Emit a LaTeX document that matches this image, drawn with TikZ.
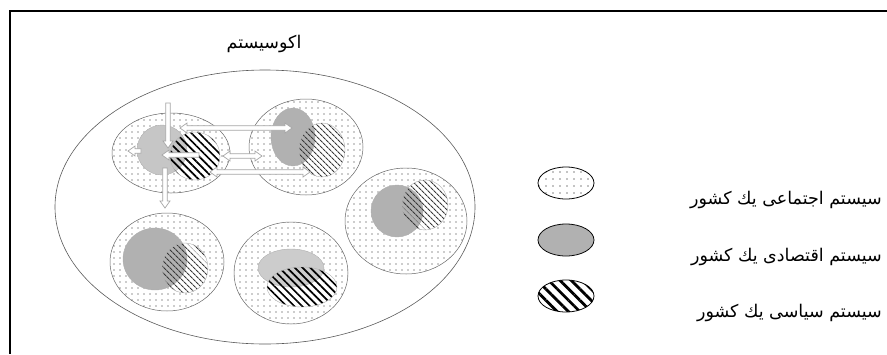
\documentclass[tikz,border=0pt]{standalone}
\usepackage{fontspec}
\newfontfamily\arabicfont[Script=Arabic]{DejaVu Sans}
\TeXXeTstate=1
\usetikzlibrary{patterns.meta}
\tikzset{
  social/.style={draw=gray!80!black, line width=0.5pt, pattern={Dots[distance=6pt, radius=0.6pt]}, pattern color=black!85},
  econ/.style={draw=gray!60, line width=0.4pt, fill=#1, postaction={pattern={Dots[distance=2pt, radius=0.45pt]}, pattern color=black!45}},
  polwhite/.style={fill=white},
  polbold/.style={draw=gray!60, line width=0.4pt, pattern={Lines[angle=-45, distance=5.5pt, line width=1.7pt]}, pattern color=black},
  polthin/.style={draw=gray!60, line width=0.4pt, pattern={Lines[angle=-45, distance=4pt, line width=1.1pt]}, pattern color=gray!45!black},
  blk/.style={draw=gray!70, fill=white, line width=0.7pt, line join=miter},
  pics/sarr/.style={code={\path[blk] (0,-2.3)--(#1-7,-2.3)--(#1-7,-5)--(#1,0)--(#1-7,5)--(#1-7,2.3)--(0,2.3)--cycle;}},
  pics/darr/.style={code={\path[blk] (0,0)--(7,-5)--(7,-2.3)--(#1-7,-2.3)--(#1-7,-5)--(#1,0)--(#1-7,5)--(#1-7,2.3)--(7,2.3)--(7,5)--cycle;}},
  label/.style={inner sep=0pt, font=\arabicfont\fontsize{17.5}{20}\selectfont},
  ttl/.style={inner sep=0pt, font=\arabicfont\fontsize{17.5}{20}\selectfont},
}
\begin{document}
\begin{tikzpicture}[x=1pt,y=-1pt]
\useasboundingbox (0,0) rectangle (887,354);
% frame (partial)
\draw[line width=1.4pt] (887,11) -- (10,11) -- (10,354);
% title
\node[ttl] (title) at (264,44) {\beginR اکوسیستم\endR};
% ecosystem
\draw[line width=0.6pt, draw=gray!70!black] (265,207) ellipse [x radius=210pt, y radius=137pt];

% group A (top-left)
\path[social] (171,153) ellipse [x radius=59pt, y radius=40pt];
\path[polwhite] (195,156) ellipse [x radius=25pt, y radius=24pt];
\path[econ=gray!40] (162,150) ellipse [x radius=25pt, y radius=25pt];
\path[polbold] (195,156) ellipse [x radius=25pt, y radius=24pt];

% group B (top-right)
\path[social] (306,147) ellipse [x radius=57pt, y radius=48pt];
\path[polwhite] (322,150) ellipse [x radius=23pt, y radius=27pt];
\path[econ=gray!58] (293,137) ellipse [x radius=22pt, y radius=29pt];
\path[polthin] (322,150) ellipse [x radius=23pt, y radius=27pt];

% group C (right)
\path[social] (406,221) ellipse [x radius=61pt, y radius=53pt];
\path[polwhite] (425,205) ellipse [x radius=23pt, y radius=25pt];
\path[econ=gray!58] (397,211) ellipse [x radius=26pt, y radius=26pt];
\path[polthin] (425,205) ellipse [x radius=23pt, y radius=25pt];

% group D (bottom-left)
\path[social] (167,262) ellipse [x radius=57pt, y radius=49pt];
\path[polwhite] (185,268) ellipse [x radius=23pt, y radius=25pt];
\path[econ=gray!58] (155,259) ellipse [x radius=32pt, y radius=31pt];
\path[polthin] (185,268) ellipse [x radius=23pt, y radius=25pt];

% group E (bottom-middle)
\path[social] (291,273) ellipse [x radius=57pt, y radius=51pt];
\path[polwhite] (302,287) ellipse [x radius=35pt, y radius=20pt];
\path[econ=gray!35] (291,268) ellipse [x radius=33pt, y radius=19pt];
\path[polbold] (302,287) ellipse [x radius=35pt, y radius=20pt];

% arrows
\pic[rotate=-90] at (168,103) {sarr=45};
\pic[rotate=180] at (141,151) {sarr=13};
\pic[rotate=180] at (199,155) {sarr=37};
\pic[rotate=-90] at (165,168) {sarr=40};
\pic at (180,128) {darr=112};
\pic at (223,156) {darr=39};
\pic at (210,172) {darr=100};

% legend
\path[draw=black, line width=0.8pt, pattern={Dots[distance=7pt, radius=0.6pt]}, pattern color=black] (566,183) ellipse [x radius=28pt, y radius=16pt];
\path[draw=black, line width=0.8pt, fill=gray!58, postaction={pattern={Dots[distance=2pt, radius=0.45pt]}, pattern color=black!45}] (566,240) ellipse [x radius=28pt, y radius=16pt];
\path[draw=black, line width=0.8pt, pattern={Lines[angle=-45, distance=8pt, line width=2.8pt]}, pattern color=black] (566,296) ellipse [x radius=28pt, y radius=16pt];

\node[label, anchor=east] (l1) at (882,200) {\beginR سیستم اجتماعی یك كشور\endR};
\node[label, anchor=east] (l2) at (882,257) {\beginR سیستم اقتصادی یك كشور\endR};
\node[label, anchor=east] (l3) at (882,313) {\beginR سیستم سیاسی یك كشور\endR};
\end{tikzpicture}
\end{document}
